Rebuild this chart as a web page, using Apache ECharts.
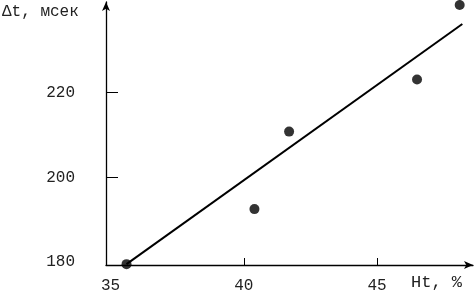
<!DOCTYPE html>
<html><head><meta charset="utf-8">
<script src="https://cdn.jsdelivr.net/npm/echarts@6/dist/echarts.min.js"></script>
<style>html,body{margin:0;padding:0;background:#fff}#c{width:475px;height:294px}</style>
</head><body><div id="c"></div>
<script>
const htValues = [35.6, 40.4, 41.7, 46.5, 48.1];
const dtValues = [179.5, 192.5, 210.8, 223.1, 240.7];
const fitLine = [[35.6, 179.5], [48.2, 236.2]];
const xTickLabels = [35, 40, 45];
const yTickLabels = [180, 200, 220];
const xTicks = [40, 45];
const yTicks = [200, 220];
const xName = 'Ht, %';
const yName = 'Δt, мсек';

const font = 'Liberation Mono';
const chart = echarts.init(document.getElementById('c'));
chart.setOption({
  animation: false,
  grid: {left: 106, right: 2, top: 2, bottom: 28, containLabel: false},
  xAxis: {
    type: 'value', min: 34.83, max: 48.6,
    axisLine: {lineStyle: {color: '#000', width: 1.3}, symbol: ['none', 'arrow'], symbolSize: [6, 9]},
    axisTick: {inside: true, length: 7, lineStyle: {color: '#000'}, customValues: xTicks},
    axisLabel: {customValues: xTickLabels, margin: 13, color: '#222', fontFamily: font, fontSize: 16},
    splitLine: {show: false}
  },
  yAxis: {
    type: 'value', min: 179.3, max: 241.4,
    axisLine: {lineStyle: {color: '#000', width: 1.3}, symbol: ['none', 'arrow'], symbolSize: [6, 9]},
    axisTick: {inside: true, length: 12, lineStyle: {color: '#000'}, customValues: yTicks},
    axisLabel: {customValues: yTickLabels, margin: 31, color: '#222', fontFamily: font, fontSize: 16},
    splitLine: {show: false}
  },
  graphic: [
    {type: 'text', left: 2, top: 4, style: {text: yName, font: '16px "Liberation Mono"', fill: '#222'}},
    {type: 'text', left: 411, top: 274, style: {text: xName, font: '17px "Liberation Mono"', fill: '#222'}}
  ],
  series: [
    {type: 'line', data: fitLine, symbol: 'none', lineStyle: {color: '#000', width: 2}, z: 2},
    {type: 'scatter', data: htValues.map((v, i) => [v, dtValues[i]]), symbolSize: 10, itemStyle: {color: '#000'}, z: 3}
  ]
});
</script></body></html>
